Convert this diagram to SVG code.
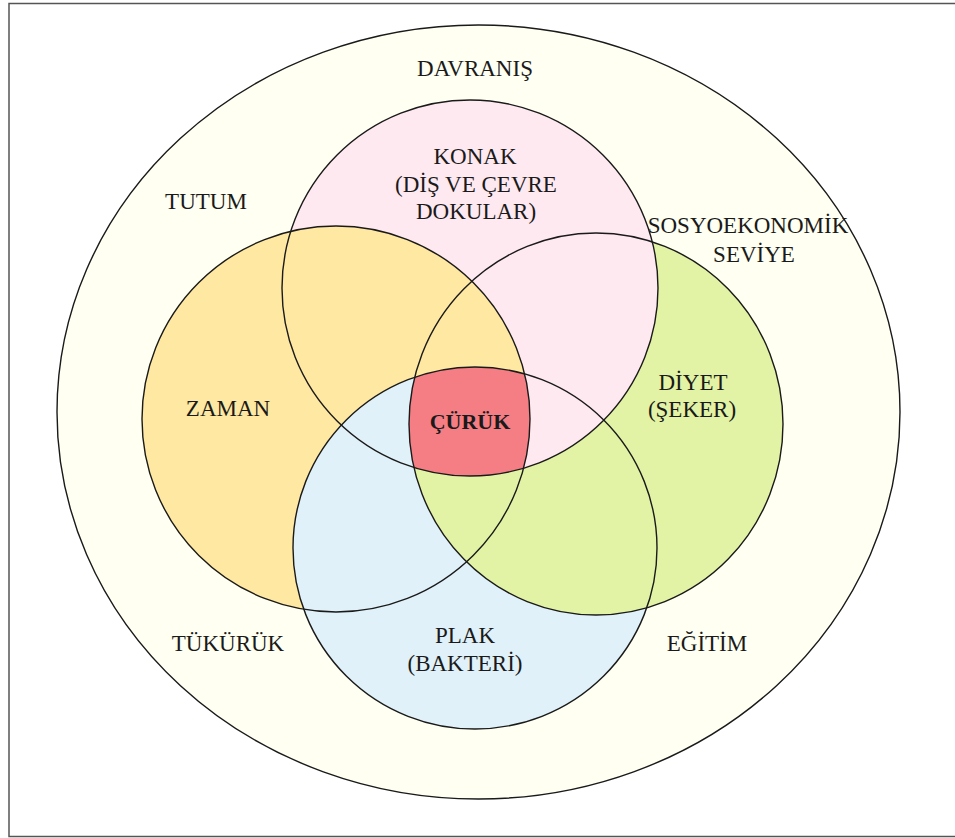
<svg xmlns="http://www.w3.org/2000/svg" xmlns:xlink="http://www.w3.org/1999/xlink" width="955" height="838" viewBox="0 0 955 838">
<style>
  .lbl { font-family: "Liberation Serif", "Times New Roman", serif; font-size: 23px; fill: #1a1a1a; text-anchor: middle; }
  .bold { font-weight: bold; font-size: 22px; }
  .ol { fill: none; stroke: #1a1a1a; stroke-width: 1.4; }
  .outer { fill: #FFFFF2; stroke: #1a1a1a; stroke-width: 1.4; }
  .konak { fill: #FFE9F1; }
  .zaman { fill: #FFE8A1; }
  .plak { fill: #E0F1F9; }
  .diyet { fill: #E2F3A5; }
  .curuk { fill: #F47E84; }
</style>
<defs>
  <clipPath id="clipK"><ellipse cx="470" cy="288" rx="188" ry="188"/></clipPath>
  <clipPath id="clipZ"><ellipse cx="336" cy="419" rx="194" ry="193"/></clipPath>
  <clipPath id="clipD"><ellipse cx="596" cy="424" rx="187" ry="191"/></clipPath>
</defs>
<rect x="0" y="0" width="955" height="838" fill="#ffffff"/>
<rect x="9" y="3.5" width="960" height="833" fill="none" stroke="#555555" stroke-width="1.5"/>

<g id="node-davranis">
  <ellipse class="outer" cx="478.5" cy="412" rx="421.5" ry="387"/>
  <text class="lbl" x="475" y="76">DAVRANIŞ</text>
  <text class="lbl" x="206" y="209">TUTUM</text>
  <text class="lbl" x="748" y="233">SOSYOEKONOMİK</text>
  <text class="lbl" x="754" y="262">SEVİYE</text>
  <text class="lbl" x="228" y="651">TÜKÜRÜK</text>
  <text class="lbl" x="707" y="651">EĞİTİM</text>
</g>

<g id="node-zaman">
  <ellipse class="zaman" cx="336" cy="419" rx="194" ry="193"/>
  <text class="lbl" x="228" y="416">ZAMAN</text>
</g>

<g id="node-plak">
  <ellipse class="plak" cx="475" cy="548" rx="182" ry="181"/>
  <text class="lbl" x="465" y="643">PLAK</text>
  <text class="lbl" x="465" y="671">(BAKTERİ)</text>
</g>

<g id="node-diyet">
  <ellipse class="diyet" cx="596" cy="424" rx="187" ry="191"/>
  <text class="lbl" x="693" y="390">DİYET</text>
  <text class="lbl" x="692" y="417">(ŞEKER)</text>
</g>

<g id="node-konak">
  <ellipse class="konak" cx="470" cy="288" rx="188" ry="188"/>
  <text class="lbl" x="475" y="164">KONAK</text>
  <text class="lbl" x="476" y="192">(DİŞ VE ÇEVRE</text>
  <text class="lbl" x="476" y="219">DOKULAR)</text>
</g>

<g id="overlaps">
  <g clip-path="url(#clipK)">
    <ellipse class="zaman" cx="336" cy="419" rx="194" ry="193"/>
  </g>
  <g clip-path="url(#clipK)">
    <g clip-path="url(#clipZ)">
      <ellipse class="plak" cx="475" cy="548" rx="182" ry="181"/>
    </g>
  </g>
</g>

<g id="node-curuk">
  <g clip-path="url(#clipK)">
    <g clip-path="url(#clipZ)">
      <g clip-path="url(#clipD)">
        <ellipse class="curuk" cx="475" cy="548" rx="182" ry="181"/>
      </g>
    </g>
  </g>
  <text class="lbl bold" x="470" y="429">ÇÜRÜK</text>
</g>

<g id="outlines">
  <ellipse class="ol" cx="470" cy="288" rx="188" ry="188"/>
  <ellipse class="ol" cx="336" cy="419" rx="194" ry="193"/>
  <ellipse class="ol" cx="475" cy="548" rx="182" ry="181"/>
  <ellipse class="ol" cx="596" cy="424" rx="187" ry="191"/>
</g>

<g id="connectors"></g>
</svg>
